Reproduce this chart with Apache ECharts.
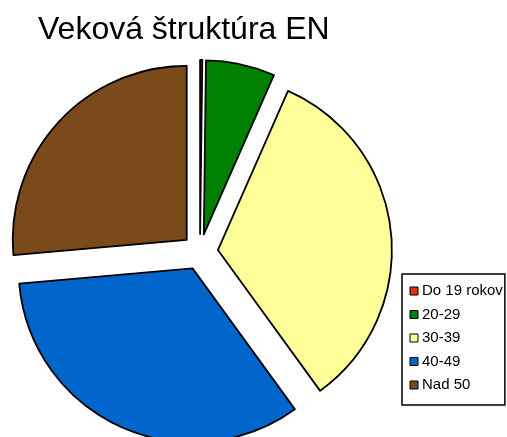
<!DOCTYPE html>
<html>
<head>
<meta charset="utf-8">
<script src="https://cdn.jsdelivr.net/npm/echarts@6/dist/echarts.min.js"></script>
<style>
  html, body { margin: 0; padding: 0; background: #fff; }
  #chart { width: 507px; height: 437px; }
</style>
</head>
<body>
<div id="chart"></div>
<script>
"use strict";
const TITLE = "Veková štruktúra EN";
const CATEGORIES = ["Do 19 rokov", "20-29", "30-39", "40-49", "Nad 50"];
const SHARES = [0.2, 6.4, 33.4, 33.6, 26.4];
const COLORS = ["#DD3311", "#008000", "#FFFF99", "#0066CC", "#7B4A1A"];

const chart = echarts.init(document.getElementById("chart"), null, { renderer: "canvas" });
const FONT = "Liberation Sans, Arial, sans-serif";

chart.setOption({
  animation: false,
  backgroundColor: "#fff",
  title: {
    text: TITLE, left: 38, top: 14, padding: 0,
    textStyle: { fontFamily: FONT, fontSize: 32, fontWeight: "normal", color: "#000" }
  },
  legend: {
    orient: "vertical", left: 402, top: 274,
    padding: [9.5, 2, 12.5, 7.5],
    backgroundColor: "#fff", borderColor: "#000", borderWidth: 1.5, borderRadius: 0,
    icon: "rect", itemWidth: 8, itemHeight: 8, itemGap: 8.5,
    itemStyle: { borderColor: "#000", borderWidth: 1 },
    textStyle: { fontFamily: FONT, fontSize: 15, color: "#000", padding: [0, 0, 0, -1] },
    data: CATEGORIES
  },
  series: [{
    type: "pie",
    center: [200, 252],
    radius: 174,
    startAngle: 90,
    clockwise: true,
    selectedMode: "multiple",
    selectedOffset: 18,
    avoidLabelOverlap: false,
    label: { show: false },
    labelLine: { show: false },
    emphasis: { disabled: true },
    itemStyle: { borderColor: "#000", borderWidth: 1.8 },
    data: CATEGORIES.map((name, i) => ({
      name, value: SHARES[i], selected: true,
      itemStyle: { color: COLORS[i] }
    }))
  }]
});
</script>
</body>
</html>
